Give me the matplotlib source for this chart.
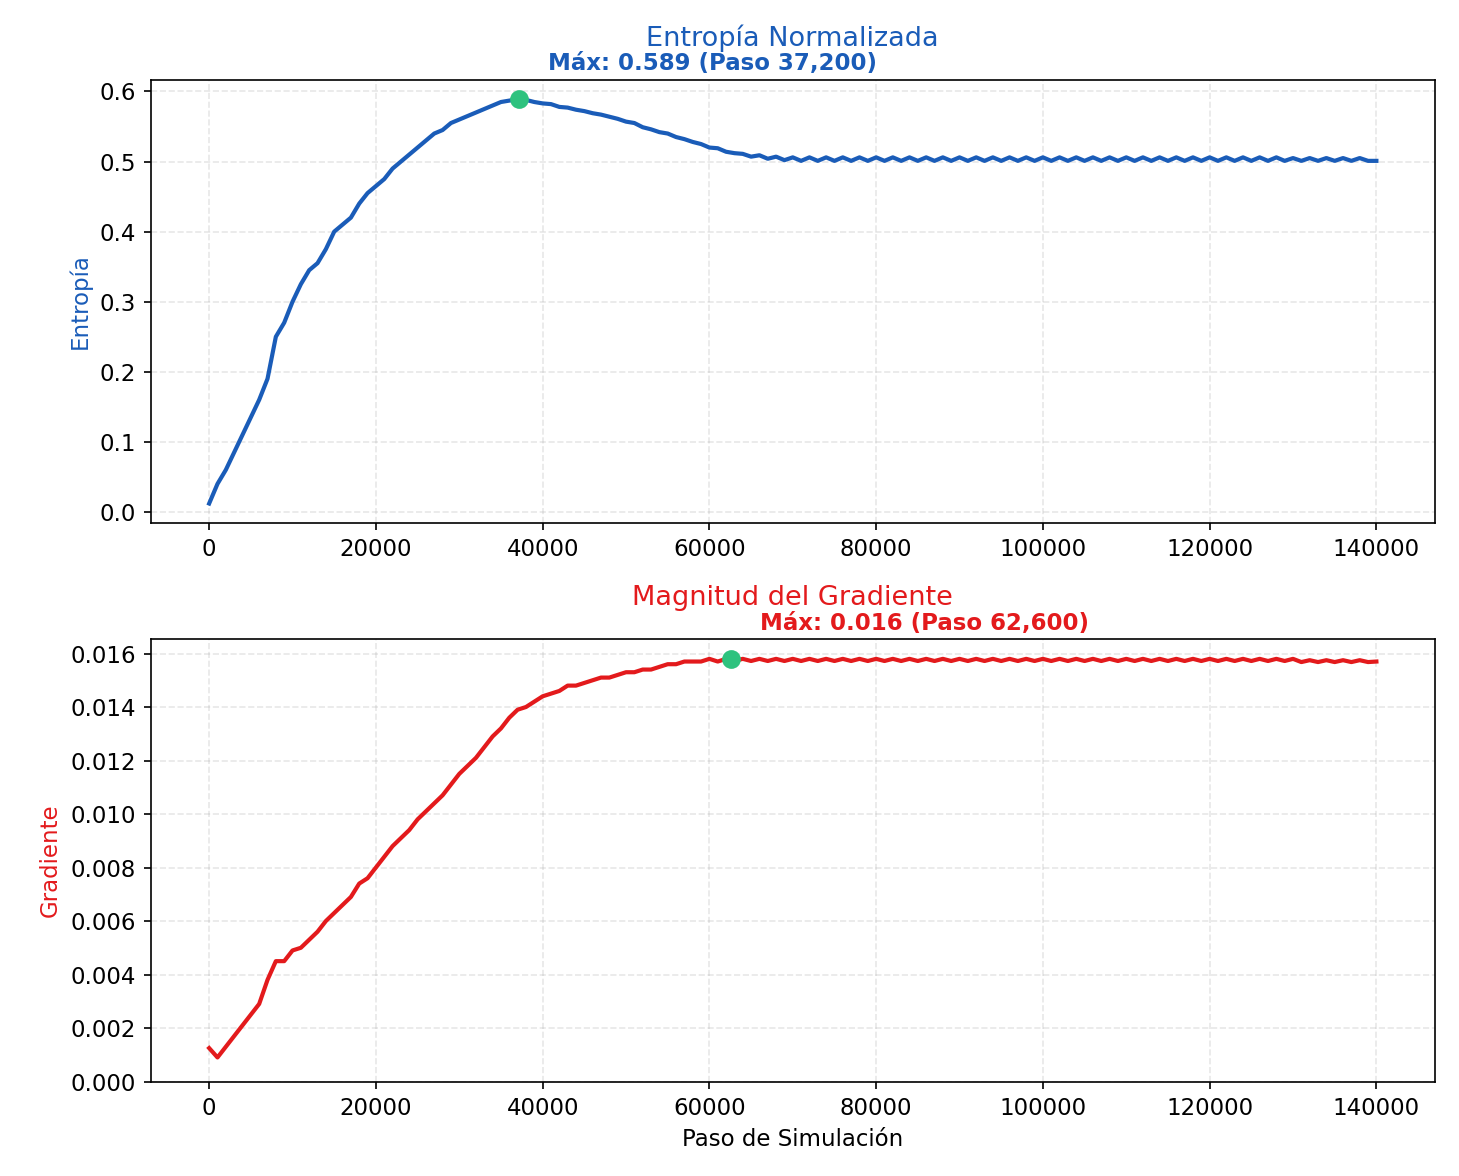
import numpy as np
import matplotlib.pyplot as plt

steps = list(range(0, 141000, 1000))

entropia = [0.012, 0.04, 0.06, 0.085, 0.11, 0.135, 0.16, 0.19, 0.25, 0.27,
            0.30, 0.325, 0.345, 0.355, 0.375, 0.40, 0.41, 0.42, 0.44, 0.455,
            0.465, 0.475, 0.49, 0.50, 0.51, 0.52, 0.53, 0.54, 0.545, 0.555,
            0.56, 0.565, 0.57, 0.575, 0.58, 0.585, 0.587, 0.589, 0.588, 0.585,
            0.583, 0.582, 0.578, 0.577, 0.574, 0.572, 0.569, 0.567, 0.564, 0.561,
            0.557, 0.555, 0.549, 0.546, 0.542, 0.54, 0.535, 0.532, 0.528, 0.525,
            0.52, 0.519, 0.514, 0.512, 0.511, 0.507, 0.509, 0.504, 0.507, 0.502,
            0.506, 0.501, 0.506, 0.501, 0.506, 0.501, 0.506, 0.501, 0.506, 0.501,
            0.506, 0.501, 0.506, 0.501, 0.506, 0.501, 0.506, 0.501, 0.506, 0.501,
            0.506, 0.501, 0.506, 0.501, 0.506, 0.501, 0.506, 0.501, 0.506, 0.501,
            0.506, 0.501, 0.506, 0.501, 0.506, 0.501, 0.506, 0.501, 0.506, 0.501,
            0.506, 0.501, 0.506, 0.501, 0.506, 0.501, 0.506, 0.501, 0.506, 0.501,
            0.506, 0.501, 0.506, 0.501, 0.506, 0.501, 0.506, 0.501, 0.506, 0.501,
            0.505, 0.501, 0.505, 0.501, 0.505, 0.501, 0.505, 0.501, 0.505, 0.501,
            0.501]

gradiente = [0.00125, 0.0009, 0.0013, 0.0017, 0.0021, 0.0025, 0.0029, 0.0038, 0.0045, 0.0045,
             0.0049, 0.0050, 0.0053, 0.0056, 0.0060, 0.0063, 0.0066, 0.0069, 0.0074, 0.0076,
             0.0080, 0.0084, 0.0088, 0.0091, 0.0094, 0.0098, 0.0101, 0.0104, 0.0107, 0.0111,
             0.0115, 0.0118, 0.0121, 0.0125, 0.0129, 0.0132, 0.0136, 0.0139, 0.0140, 0.0142,
             0.0144, 0.0145, 0.0146, 0.0148, 0.0148, 0.0149, 0.0150, 0.0151, 0.0151, 0.0152,
             0.0153, 0.0153, 0.0154, 0.0154, 0.0155, 0.0156, 0.0156, 0.0157, 0.0157, 0.0157,
             0.0158, 0.0157, 0.0158, 0.01572, 0.0158, 0.01572, 0.0158, 0.01572, 0.0158, 0.01572,
             0.0158, 0.01572, 0.0158, 0.01572, 0.0158, 0.01572, 0.0158, 0.01572, 0.0158, 0.01572,
             0.0158, 0.01572, 0.0158, 0.01572, 0.0158, 0.01572, 0.0158, 0.01572, 0.0158, 0.01572,
             0.0158, 0.01572, 0.0158, 0.01572, 0.0158, 0.01572, 0.0158, 0.01572, 0.0158, 0.01572,
             0.0158, 0.01572, 0.0158, 0.01572, 0.0158, 0.01572, 0.0158, 0.01572, 0.0158, 0.01572,
             0.0158, 0.01572, 0.0158, 0.01572, 0.0158, 0.01572, 0.0158, 0.01572, 0.0158, 0.01572,
             0.0158, 0.01572, 0.0158, 0.01572, 0.0158, 0.01572, 0.0158, 0.01572, 0.0158, 0.01572,
             0.0158, 0.01568, 0.01575, 0.01568, 0.01575, 0.01568, 0.01575, 0.01568, 0.01575, 0.01568,
             0.0157]

max_ent = (37200, 0.589)
max_grad = (62600, 0.0158)

azul = "#1a5cb8"
rojo = "#e31a1c"
verde = "#2ec27e"

plt.rcParams["font.size"] = 11

fig, (ax1, ax2) = plt.subplots(2, 1, figsize=(9.73, 7.84), dpi=150)

ax1.plot(steps, entropia, color=azul, lw=2)
ax1.plot(*max_ent, "o", color=verde, ms=8)
ax1.annotate("Máx: 0.589 (Paso 37,200)", xy=max_ent, xytext=(14, 14),
             textcoords="offset points", color=azul, fontweight="bold", fontsize=11)
ax1.set_title("Entropía Normalizada", color=azul, fontsize=13, pad=16)
ax1.set_ylabel("Entropía", color=azul)
ax1.set_ylim(-0.016, 0.617)
ax1.grid(True, ls="--", alpha=0.3)

ax2.plot(steps, gradiente, color=rojo, lw=2)
ax2.plot(*max_grad, "o", color=verde, ms=8)
ax2.annotate("Máx: 0.016 (Paso 62,600)", xy=max_grad, xytext=(14, 14),
             textcoords="offset points", color=rojo, fontweight="bold", fontsize=11)
ax2.set_title("Magnitud del Gradiente", color=rojo, fontsize=13, pad=16)
ax2.set_ylabel("Gradiente", color=rojo)
ax2.set_xlabel("Paso de Simulación")
ax2.set_ylim(-0.00003, 0.01655)
ax2.grid(True, ls="--", alpha=0.3)

fig.tight_layout()
fig.savefig("out.png")
